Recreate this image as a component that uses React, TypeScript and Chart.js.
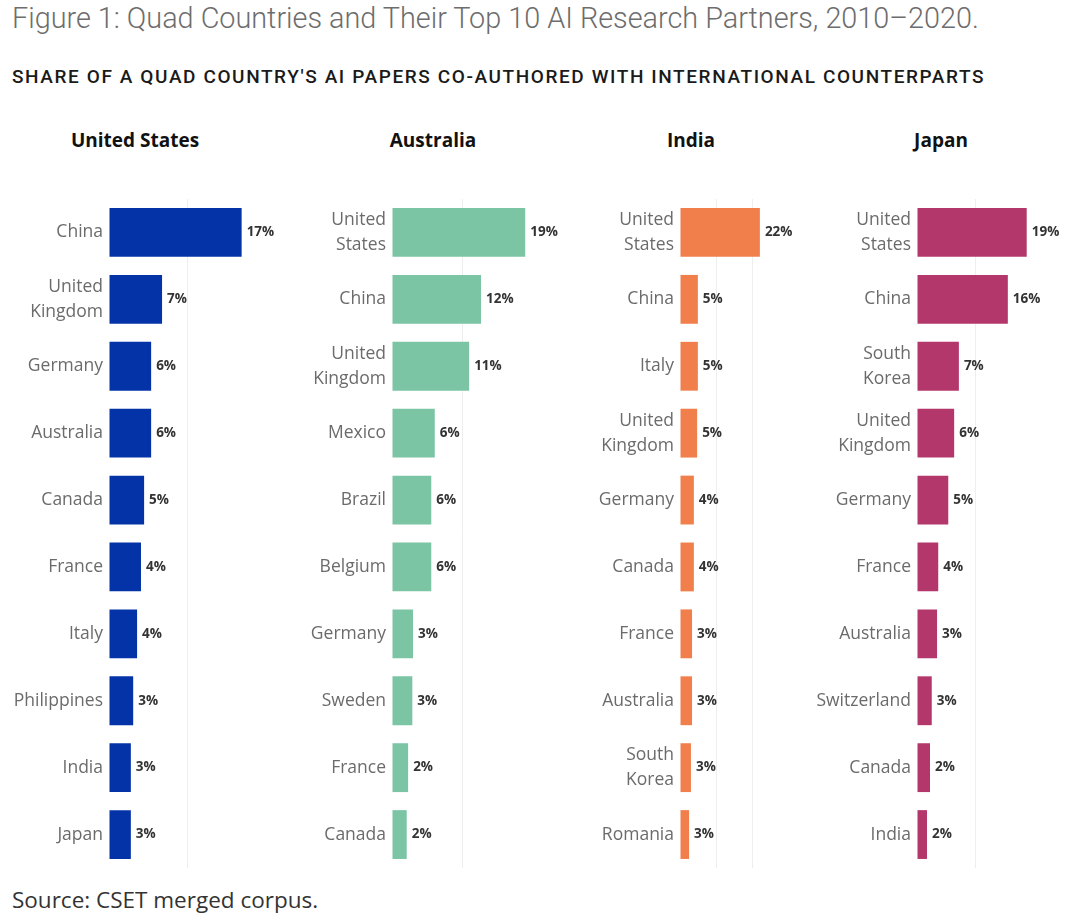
import React, { useEffect, useRef } from "react";
import { Chart, registerables } from "chart.js";

Chart.register(...registerables);

// ---------- data ----------
const usCategories = ["China", "United\nKingdom", "Germany", "Australia", "Canada", "France", "Italy", "Philippines", "India", "Japan"];
const usValues = [17.0, 6.8, 5.4, 5.4, 4.5, 4.1, 3.6, 3.1, 2.8, 2.8];
const usLabels = ["17%", "7%", "6%", "6%", "5%", "4%", "4%", "3%", "3%", "3%"];

const auCategories = ["United\nStates", "China", "United\nKingdom", "Mexico", "Brazil", "Belgium", "Germany", "Sweden", "France", "Canada"];
const auValues = [19.0, 12.7, 11.0, 6.1, 5.6, 5.6, 3.0, 2.9, 2.3, 2.1];
const auLabels = ["19%", "12%", "11%", "6%", "6%", "6%", "3%", "3%", "2%", "2%"];

const inCategories = ["United\nStates", "China", "Italy", "United\nKingdom", "Germany", "Canada", "France", "Australia", "South\nKorea", "Romania"];
const inValues = [21.9, 4.9, 4.9, 4.7, 3.8, 3.8, 3.3, 3.3, 3.0, 2.5];
const inLabels = ["22%", "5%", "5%", "5%", "4%", "4%", "3%", "3%", "3%", "3%"];

const jpCategories = ["United\nStates", "China", "South\nKorea", "United\nKingdom", "Germany", "France", "Australia", "Switzerland", "Canada", "India"];
const jpValues = [18.6, 15.4, 7.1, 6.3, 5.3, 3.6, 3.4, 2.5, 2.2, 1.7];
const jpLabels = ["19%", "16%", "7%", "6%", "5%", "4%", "3%", "3%", "2%", "2%"];

const panelTitles = ["United States", "Australia", "India", "Japan"];

const FONT = "'Open Sans', 'Noto Sans', sans-serif";

type Panel = {
  title: string;
  categories: string[];
  values: number[];
  labels: string[];
  color: string;
  left: number;
  barStart: number;
  right: number;
  xMax: number;
  titleCenter: number;
};

const panels: Panel[] = [
  { title: panelTitles[0], categories: usCategories, values: usValues, labels: usLabels, color: "#0433a8", left: 0, barStart: 109, right: 290, xMax: 23.2, titleCenter: 135 },
  { title: panelTitles[1], categories: auCategories, values: auValues, labels: auLabels, color: "#7bc4a4", left: 295, barStart: 392, right: 568, xMax: 25.1, titleCenter: 433 },
  { title: panelTitles[2], categories: inCategories, values: inValues, labels: inLabels, color: "#f07f4c", left: 585, barStart: 680, right: 800, xMax: 32.9, titleCenter: 691 },
  { title: panelTitles[3], categories: jpCategories, values: jpValues, labels: jpLabels, color: "#b4376c", left: 805, barStart: 917, right: 1068, xMax: 25.6, titleCenter: 941 },
];

const TOP = 199;
const HEIGHT = 669;

function PanelChart({ p }: { p: Panel }) {
  const ref = useRef<HTMLCanvasElement | null>(null);
  useEffect(() => {
    if (!ref.current) return;
    const labelsPlugin = {
      id: "valueLabels",
      afterDatasetsDraw(chart: any) {
        const ctx = chart.ctx;
        const meta = chart.getDatasetMeta(0);
        ctx.save();
        ctx.font = `700 13.5px ${FONT}`;
        ctx.fillStyle = "#333333";
        ctx.textBaseline = "middle";
        ctx.textAlign = "left";
        meta.data.forEach((bar: any, i: number) => {
          ctx.fillText(p.labels[i], bar.x + 5, bar.y);
        });
        ctx.restore();
      },
    };
    const chart = new Chart(ref.current, {
      type: "bar",
      data: {
        labels: p.categories.map((c) => c.split("\n")),
        datasets: [
          {
            data: p.values,
            backgroundColor: p.color,
            borderWidth: 0,
            barPercentage: 0.73,
            categoryPercentage: 1,
          },
        ],
      },
      options: {
        indexAxis: "y",
        animation: false,
        responsive: false,
        maintainAspectRatio: false,
        layout: { padding: 0 },
        plugins: { legend: { display: false }, tooltip: { enabled: false }, title: { display: false } },
        scales: {
          x: {
            min: 0,
            max: p.xMax,
            position: "bottom",
            grid: {
              color: (ctx: any) => (ctx.tick && ctx.tick.value === 0 ? "rgba(0,0,0,0)" : "#eeeeee"),
              lineWidth: 1,
              drawTicks: false,
            },
            border: { display: true, color: "#f2f2f2" },
            ticks: { display: false, stepSize: 10 },
            afterFit(scale: any) {
              scale.height = 0;
              scale.paddingLeft = 0;
              scale.paddingRight = 0;
            },
          },
          y: {
            grid: { display: false, drawTicks: false },
            border: { display: false },
            ticks: {
              color: "#6b6b6b",
              padding: 6,
              font: { family: FONT, size: 17.5, lineHeight: 1.43 },
            },
            afterFit(scale: any) {
              scale.width = p.barStart - p.left;
              scale.paddingTop = 0;
              scale.paddingBottom = 0;
            },
          },
        },
      },
      plugins: [labelsPlugin],
    });
    return () => chart.destroy();
  }, [p]);
  return (
    <canvas
      ref={ref}
      width={p.right - p.left}
      height={HEIGHT}
      style={{ position: "absolute", left: p.left, top: TOP, width: p.right - p.left, height: HEIGHT }}
    />
  );
}

export default function App() {
  return (
    <div style={{ position: "absolute", left: 0, top: 0, width: 1080, height: 924, background: "#ffffff", overflow: "hidden" }}>
      <div
        style={{
          position: "absolute",
          left: 12,
          top: 0,
          fontFamily: "Roboto, sans-serif",
          fontWeight: 300,
          fontSize: 28.8,
          color: "#6d6d6d",
          whiteSpace: "nowrap",
          lineHeight: "36px",
        }}
      >
        Figure 1: Quad Countries and Their Top 10 AI Research Partners, 2010–2020.
      </div>
      <div
        style={{
          position: "absolute",
          left: 12,
          top: 65,
          fontFamily: "Roboto, sans-serif",
          fontWeight: 500,
          fontSize: 19,
          letterSpacing: 1.6,
          color: "#1a1a1a",
          whiteSpace: "nowrap",
          lineHeight: "24px",
        }}
      >
        SHARE OF A QUAD COUNTRY'S AI PAPERS CO-AUTHORED WITH INTERNATIONAL COUNTERPARTS
      </div>
      {panels.map((p) => (
        <div
          key={p.title + "t"}
          style={{
            position: "absolute",
            left: p.titleCenter - 100,
            width: 200,
            top: 127,
            textAlign: "center",
            fontFamily: FONT,
            fontWeight: 700,
            fontSize: 19,
            color: "#111111",
            lineHeight: "26px",
          }}
        >
          {p.title}
        </div>
      ))}
      {panels.map((p) => (
        <PanelChart key={p.title} p={p} />
      ))}
      <div
        style={{
          position: "absolute",
          left: 12,
          top: 885,
          fontFamily: FONT,
          fontSize: 22.5,
          color: "#333333",
          whiteSpace: "nowrap",
          lineHeight: "30px",
        }}
      >
        Source: CSET merged corpus.
      </div>
    </div>
  );
}
